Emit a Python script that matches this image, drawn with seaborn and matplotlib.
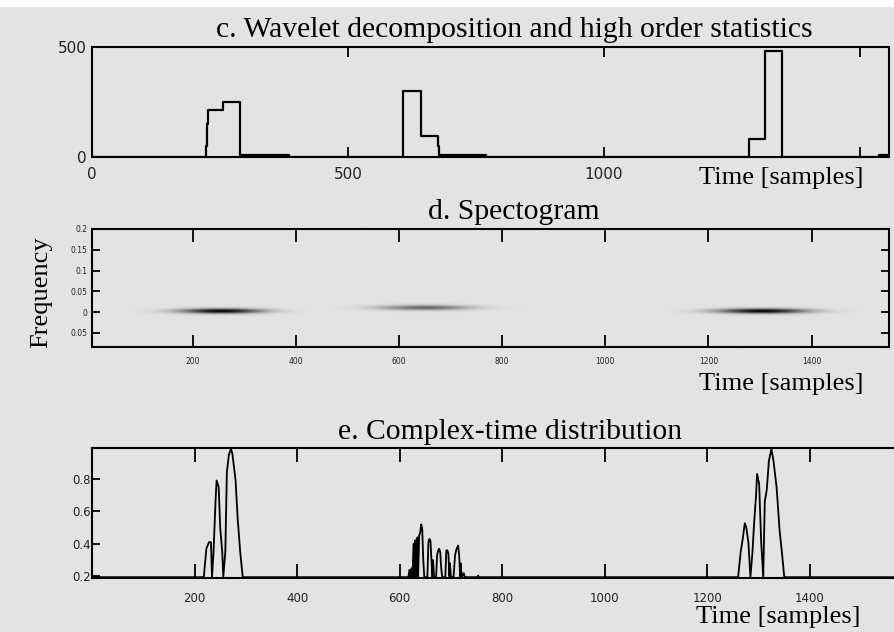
import numpy as np
import matplotlib
matplotlib.use("Agg")
import matplotlib.pyplot as plt
from matplotlib.colors import LinearSegmentedColormap
from matplotlib.patches import Rectangle
import seaborn as sns

# ---------------- data ----------------
# c. wavelet decomposition (step function: value from t[i] to t[i+1])
wav_t = [0, 222, 225, 227, 256, 289, 385, 608, 642, 675, 678, 770, 1283, 1314, 1348, 1538, 1557]
wav_v = [0, 48, 150, 212, 250, 8, 0, 298, 94, 50, 8, 0, 79, 480, 0, 10, 10]

# d. spectrogram blobs (time centre, time spread, freq centre, freq spread, intensity)
blob_t = [255, 650, 1305]
blob_st = [55, 62, 60]
blob_f = [0.0025, 0.0105, 0.0025]
blob_sf = [0.0042, 0.0042, 0.0042]
blob_amp = [1.0, 0.55, 1.0]
freq_ticks = [0.2, 0.15, 0.1, 0.05, 0, -0.05]
freq_labels = ["0.2", "0.15", "0.1", "0.05", "0", "0.05"]
time_ticks = [200, 400, 600, 800, 1000, 1200, 1400]

# e. complex-time distribution
ctd_t = [0, 218, 223, 228, 232, 234, 237, 241, 243, 247, 250, 254, 256, 260, 263, 267, 271, 274,
         280, 284, 289, 294,
         617, 619, 621, 623, 625, 627, 629, 630, 632, 633, 635, 636, 638, 640, 642, 644, 646, 648,
         654, 656, 658, 660, 662, 664, 665, 667, 671, 673, 675, 677, 679, 681, 683,
         689, 691, 693, 695, 697, 698, 700, 705, 708, 711, 714, 716, 718, 719, 721, 725, 727,
         752, 753, 754,
         1260, 1265, 1269, 1273, 1276, 1280, 1284, 1288, 1291, 1295, 1297, 1301, 1305, 1309,
         1312, 1316, 1320, 1325, 1329, 1335, 1341, 1346, 1350, 1564]
ctd_v = [0.195, 0.195, 0.37, 0.41, 0.41, 0.195, 0.35, 0.67, 0.79, 0.75, 0.50, 0.35, 0.195, 0.35, 0.84, 0.95, 0.985, 0.95,
         0.79, 0.56, 0.35, 0.195,
         0.195, 0.24, 0.195, 0.25, 0.195, 0.40, 0.195, 0.42, 0.195, 0.43, 0.44, 0.195, 0.45, 0.47, 0.52, 0.49, 0.30, 0.195,
         0.195, 0.41, 0.43, 0.42, 0.30, 0.195, 0.30, 0.195, 0.195, 0.33, 0.36, 0.37, 0.35, 0.25, 0.195,
         0.195, 0.36, 0.36, 0.34, 0.20, 0.28, 0.195, 0.195, 0.33, 0.37, 0.39, 0.33, 0.195, 0.28, 0.195, 0.22, 0.195,
         0.195, 0.205, 0.195,
         0.195, 0.35, 0.43, 0.527, 0.50, 0.41, 0.195, 0.35, 0.517, 0.70, 0.83, 0.77, 0.41, 0.195,
         0.66, 0.735, 0.91, 0.985, 0.91, 0.75, 0.48, 0.33, 0.195, 0.195]
ctd_yticks = [0.2, 0.4, 0.6, 0.8]

# ---------------- style ----------------
BG = "#e3e3e3"
sns.set_theme(style="ticks", rc={"axes.facecolor": BG, "figure.facecolor": BG,
                                 "axes.edgecolor": "black", "axes.linewidth": 1.5,
                                 "text.color": "black", "xtick.color": "black",
                                 "ytick.color": "black"})
plt.rcParams["font.family"] = ["Liberation Sans Narrow", "DejaVu Sans"]
SERIF = ["Liberation Serif", "DejaVu Serif"]
TFS = 21.3   # panel titles
LFS = 19     # axis labels
TICKC = "#222222"

W, H = 894, 632
fig = plt.figure(figsize=(W / 100, H / 100), dpi=100)
fig.patches.append(Rectangle((0, 1 - 6 / H), 1, 6 / H, transform=fig.transFigure,
                             color="white", zorder=0))


def ax_px(left, top, right, bottom):
    return fig.add_axes([left / W, 1 - bottom / H, (right - left) / W, (bottom - top) / H])


# ---- c ----
ax1 = ax_px(92, 47, 889, 157)
sns.lineplot(x=wav_t, y=wav_v, ax=ax1, color="black", linewidth=1.6,
             drawstyle="steps-post", estimator=None, sort=False)
ax1.set_xlim(0, 1557)
ax1.set_ylim(-1, 500)
ax1.set_xticks([0, 500, 1000, 1500])
ax1.set_xticklabels(["0", "500", "1000", ""])
ax1.set_yticks([0, 500])
ax1.tick_params(axis="x", direction="in", top=True, bottom=True, length=7, width=1.3,
                labelsize=11, pad=7, labelcolor=TICKC)
ax1.tick_params(axis="y", direction="in", length=0, labelsize=11, pad=4, labelcolor=TICKC)
ax1.set_xlabel("")
ax1.set_ylabel("")
fig.text(514 / W, 1 - 30 / H, "c. Wavelet decomposition and high order statistics",
         family=SERIF, fontsize=TFS, ha="center", va="center", color="black")
fig.text(781 / W, 1 - 178 / H, "Time [samples]", family=SERIF, fontsize=LFS,
         ha="center", va="center", color="black")

# ---- d ----
ax2 = ax_px(92, 229, 889, 347)
tx = np.linspace(5, 1550, 900)
fy = np.linspace(-0.084, 0.2, 400)
T, F = np.meshgrid(tx, fy)
Z = np.zeros_like(T)
for tc, st, fc, sf, a in zip(blob_t, blob_st, blob_f, blob_sf, blob_amp):
    Z += a * np.exp(-0.5 * ((T - tc) / st) ** 2 - 0.5 * ((F - fc) / sf) ** 2)
cmap = LinearSegmentedColormap.from_list("bgk", [BG, "#000000"])
ax2.imshow(Z, extent=[5, 1550, -0.084, 0.2], origin="lower", aspect="auto",
           cmap=cmap, vmin=0, vmax=1, interpolation="bilinear")
ax2.set_xlim(5, 1550)
ax2.set_ylim(-0.084, 0.2)
ax2.set_xticks(time_ticks)
ax2.set_yticks(freq_ticks)
ax2.set_yticklabels(freq_labels)
ax2.tick_params(axis="x", direction="in", top=True, bottom=True, length=9, width=1.3,
                labelsize=5.5, pad=7, labelcolor=TICKC)
ax2.tick_params(axis="y", direction="in", left=True, right=True, length=6, width=1.3,
                labelsize=5.5, pad=3, labelcolor=TICKC)
fig.text(514 / W, 1 - 212 / H, "d. Spectogram", family=SERIF, fontsize=TFS,
         ha="center", va="center", color="black")
fig.text(781 / W, 1 - 384 / H, "Time [samples]", family=SERIF, fontsize=LFS,
         ha="center", va="center", color="black")
fig.text(41 / W, 1 - 292 / H, "Frequency", family=SERIF, fontsize=LFS,
         ha="center", va="center", rotation=90, color="black")

# ---- e ----
ax3 = ax_px(92, 448, 894, 578)
sns.lineplot(x=ctd_t, y=ctd_v, ax=ax3, color="black", linewidth=1.3,
             estimator=None, sort=False)
ax3.set_xlim(0, 1564)
ax3.set_ylim(0.19, 0.99)
ax3.set_xticks(time_ticks)
ax3.set_yticks(ctd_yticks)
ax3.set_yticklabels(["0.2", "0.4", "0.6", "0.8"])
ax3.spines["right"].set_visible(False)
ax3.tick_params(axis="x", direction="in", top=True, bottom=True, length=10, width=1.3,
                labelsize=8.5, pad=10, labelcolor=TICKC)
ax3.tick_params(axis="y", direction="in", length=6, width=1.3, labelsize=8.5, pad=1,
                labelcolor=TICKC)
ax3.set_xlabel("")
ax3.set_ylabel("")
fig.text(510 / W, 1 - 432 / H, "e. Complex-time distribution", family=SERIF, fontsize=TFS,
         ha="center", va="center", color="black")
fig.text(778 / W, 1 - 617 / H, "Time [samples]", family=SERIF, fontsize=LFS,
         ha="center", va="center", color="black")

fig.savefig("out.png", dpi=100, facecolor=BG)
